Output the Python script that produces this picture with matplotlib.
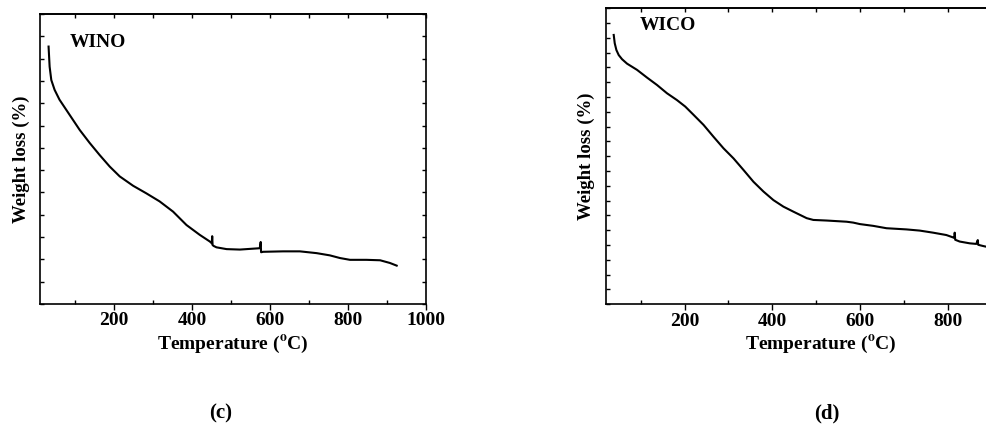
"""TGA curves for WINO (c) and WICO (d)."""

import matplotlib
matplotlib.use("Agg")
import matplotlib.pyplot as plt
from matplotlib.ticker import MultipleLocator, FixedLocator

plt.rcParams.update({
    "font.family": ["Liberation Serif", "DejaVu Serif"],
    "font.weight": "bold",
    "mathtext.fontset": "stix",
    "axes.linewidth": 1.2,
})

# ── data ──────────────────────────────────────────────────────
wino_temp = [32, 34.7, 39, 47.5, 60, 86, 112, 137.5, 163, 189, 214.6, 249, 283,
             317, 351.6, 386, 420, 446, 451, 452, 453, 456, 463, 489, 523, 574,
             576.5, 577.5, 583, 634, 677, 720, 754, 780, 805.6, 848, 883, 908, 925.5]
wino_wt = [92.7, 88.2, 85.2, 83.0, 80.8, 77.4, 74.0, 71.1, 68.4, 65.8, 63.6, 61.5, 59.8,
           58.0, 55.7, 52.7, 50.5, 49.0, 48.6, 50.2, 48.2, 48.0, 47.7, 47.3, 47.2, 47.5,
           48.9, 46.6, 46.7, 46.8, 46.8, 46.4, 45.9, 45.3, 44.9, 44.9, 44.8, 44.2, 43.6]

wico_temp = [38.3, 40.6, 44.4, 49.7, 57.3, 68.7, 91.5, 114.2, 137, 159.8, 182.5, 201.5,
             220.5, 243.3, 266, 288.8, 311.6, 334.3, 357.1, 379.9, 402.7, 425.4, 448.2,
             478.6, 493.7, 524.1, 569.6, 584.8, 600, 630.4, 660.7, 706.3, 736.6, 767,
             797.3, 812.5, 815.5, 816.3, 817.5, 827.7, 850.5, 865.6, 869, 870, 880.8,
             886.9, 900]
wico_wt = [91.0, 88.2, 85.9, 84.2, 82.8, 81.3, 79.2, 76.6, 74.1, 71.3, 69.0, 66.8,
           64.0, 60.6, 56.6, 52.7, 49.3, 45.4, 41.4, 38.1, 35.2, 33.0, 31.3,
           29.1, 28.5, 28.3, 27.9, 27.6, 27.1, 26.5, 25.7, 25.3, 24.9, 24.2,
           23.4, 22.6, 22.4, 24.2, 21.8, 21.2, 20.6, 20.4, 21.7, 20.1, 19.7,
           19.5, 19.3]

W, H = 986, 429
fig = plt.figure(figsize=(W / 100, H / 100), dpi=100)


def panel(rect, temp, wt, xlim, ylim, xticks, name, name_xy, ylabel_pad):
    ax = fig.add_axes(rect)
    ax.plot(temp, wt, color="black", lw=1.5)
    ax.set_xlim(*xlim)
    ax.set_ylim(*ylim)

    ax.xaxis.set_major_locator(FixedLocator(xticks))
    ax.xaxis.set_minor_locator(MultipleLocator(100))
    ax.yaxis.set_major_locator(MultipleLocator(5))
    ax.tick_params(axis="x", which="major", direction="out", length=4, width=1,
                   labelsize=14, pad=2)
    ax.tick_params(axis="x", which="minor", direction="in", length=3, width=1)
    ax.tick_params(axis="y", which="both", direction="in", length=3, width=1,
                   left=True, right=True, labelleft=False)
    for lb in ax.get_xticklabels():
        lb.set_fontweight("bold")

    top = ax.secondary_xaxis("top")
    top.xaxis.set_major_locator(MultipleLocator(100))
    top.tick_params(direction="in", length=3, width=1, labeltop=False)

    ax.set_xlabel("Temperature ($^{\\mathbf{o}}$C)", fontsize=14, fontweight="bold",
                  labelpad=3)
    ax.set_ylabel("Weight loss (%)", fontsize=13.5, fontweight="bold",
                  labelpad=ylabel_pad)
    ax.text(*name_xy, name, transform=ax.transAxes, fontsize=14,
            fontweight="bold", va="baseline")
    return ax


# (c) WINO
panel([40 / W, 1 - 304 / H, 385.7 / W, 290 / H],
      wino_temp, wino_wt, (10, 1000), (35, 100), [200, 400, 600, 800, 1000], "WINO",
      ((70 - 40) / 385.7, (304 - 46.7) / 290), 7.5)

# (d) WICO — panel runs off the right edge in the original
panel([605.7 / W, 1 - 304.3 / H, 429.5 / W, 296 / H],
      wico_temp, wico_wt, (20, 1000), (0, 100), [200, 400, 600, 800], "WICO",
      ((640 - 605.7) / 429.5, (304.3 - 30) / 296), 8)

fig.text(221 / W, 1 - 413 / H, "(c)", fontsize=15, fontweight="bold",
         ha="center", va="center")
fig.text(827 / W, 1 - 413 / H, "(d)", fontsize=15, fontweight="bold",
         ha="center", va="center")

fig.savefig("out.png", dpi=100)
